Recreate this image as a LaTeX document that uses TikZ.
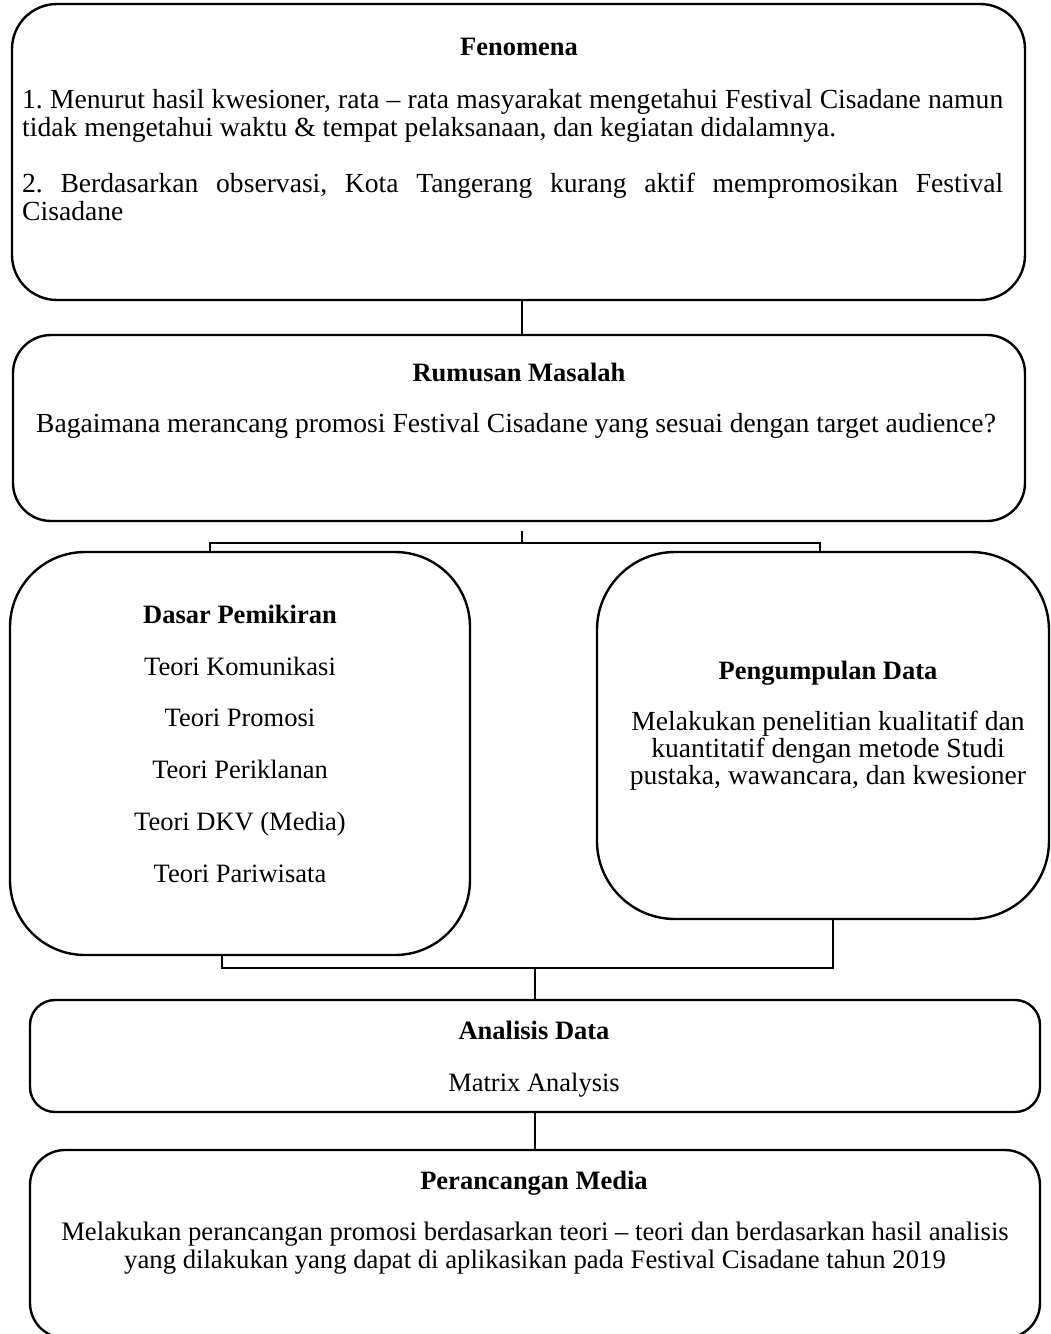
\documentclass[tikz,border=0pt]{standalone}
\usepackage{fontspec}
\setmainfont{Liberation Serif}
\frenchspacing
\begin{document}
\begin{tikzpicture}[x=1pt,y=-1pt,
  box/.style={draw,line width=2.4pt,inner sep=0pt},
  conn/.style={draw,line width=1.1pt},
  txt/.style={inner sep=0pt,anchor=base,font=\fontsize{26.5}{27.5}\selectfont\frenchspacing,align=center},
  txtb/.style={txt,font=\fontsize{27.6}{27.5}\selectfont\frenchspacing},
  ttl/.style={txt,font=\fontsize{26.5}{27.5}\selectfont\bfseries}]
\useasboundingbox (0,0) rectangle (1051,1334);
% boxes
\node[box,rounded corners=45pt,minimum width=1013pt,minimum height=296pt] (fen) at (518.5,152) {};
\node[box,rounded corners=38pt,minimum width=1012pt,minimum height=186pt] (rum) at (519,428) {};
\node[box,rounded corners=75pt,minimum width=460pt,minimum height=403pt] (dasar) at (240,753.5) {};
\node[box,rounded corners=78pt,minimum width=452pt,minimum height=367pt] (peng) at (823,735.5) {};
\node[box,rounded corners=25pt,minimum width=1010pt,minimum height=112pt] (ana) at (535,1056) {};
\node[box,rounded corners=35pt,minimum width=1010pt,minimum height=188pt] (per) at (535,1244) {};
% texts
\node[ttl] (t1) at (519,55) {Fenomena};
\node[txtb,anchor=base west] (f1) at (22,108) {\makebox[981pt][s]{1. Menurut hasil kwesioner, rata -- rata masyarakat mengetahui Festival Cisadane namun}};
\node[txtb,anchor=base west] (f2) at (22,136) {tidak mengetahui waktu \& tempat pelaksanaan, dan kegiatan didalamnya.};
\node[txtb,anchor=base west] (f3) at (22,192) {\makebox[981pt][s]{2. Berdasarkan observasi, Kota Tangerang kurang aktif mempromosikan Festival}};
\node[txtb,anchor=base west] (f4) at (22,220) {Cisadane};
\node[ttl] (t2) at (519,381) {Rumusan Masalah};
\node[txtb] (r1) at (516,432) {Bagaimana merancang promosi Festival Cisadane yang sesuai dengan target audience?};
\node[ttl] (t3) at (240,623) {Dasar Pemikiran};
\node[txt] (d1) at (240,675) {Teori Komunikasi};
\node[txt] (d2) at (240,726) {Teori Promosi};
\node[txt] (d3) at (240,778) {Teori Periklanan};
\node[txt] (d4) at (240,830) {Teori DKV (Media)};
\node[txt] (d5) at (240,882) {Teori Pariwisata};
\node[ttl] (t4) at (828,679) {Pengumpulan Data};
\node[txtb] (p1) at (828,730) {Melakukan penelitian kualitatif dan};
\node[txtb] (p2) at (828,757) {kuantitatif dengan metode Studi};
\node[txtb] (p3) at (828,784) {pustaka, wawancara, dan kwesioner};
\node[ttl] (t5) at (534,1039) {Analisis Data};
\node[txt] (a1) at (534,1091) {Matrix Analysis};
\node[ttl] (t6) at (534,1189) {Perancangan Media};
\node[txt,font=\fontsize{26.7}{27.5}\selectfont] (m1) at (535,1240) {Melakukan perancangan promosi berdasarkan teori -- teori dan berdasarkan hasil analisis};
\node[txt,font=\fontsize{26.7}{27.5}\selectfont] (m2) at (535,1268) {yang dilakukan yang dapat di aplikasikan pada Festival Cisadane tahun 2019};
% connectors
\draw[conn] ([xshift=3.5pt]fen.south) -- ([xshift=3pt]rum.north);
\coordinate (c1) at (522,531);
\coordinate (c2) at (522,543);
\coordinate (bl1) at (210,543);
\coordinate (br1) at (820,543);
\draw[conn] (c1) -- (c2);
\draw[conn] (bl1 |- dasar.north) -- (bl1) -- (br1) -- (br1 |- peng.north);
\coordinate (bl2) at (222,968);
\coordinate (br2) at (833,968);
\coordinate (c3) at (535,968);
\draw[conn] (bl2 |- dasar.south) -- (bl2) -- (br2) -- (br2 |- peng.south);
\draw[conn] (c3) -- (ana.north);
\draw[conn] (ana.south) -- (per.north);
\end{tikzpicture}
\end{document}
